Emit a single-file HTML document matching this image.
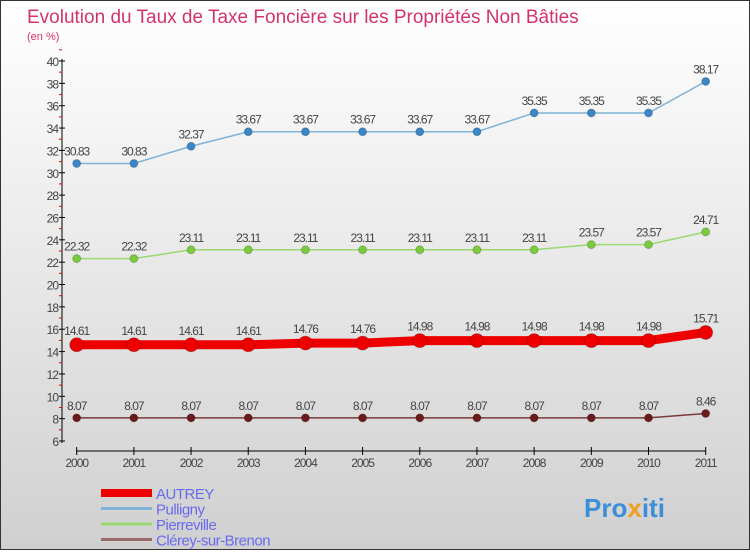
<!DOCTYPE html>
<html><head><meta charset="utf-8"><style>
body{margin:0;width:750px;height:550px;overflow:hidden;font-family:"Liberation Sans",sans-serif}
#c{position:absolute;left:0;top:0;width:748px;height:548px;border:1px solid #333;background:linear-gradient(#fff,#d0d0d0)}
</style></head><body>
<div id="c">
<svg width="750" height="550">
<text x="26" y="22" font-size="19" fill="#d2336e">Evolution du Taux de Taxe Foncière sur les Propriétés Non Bâties</text>
<text x="26" y="39" font-size="11" fill="#d2336e">(en %)</text>
<g id="axes"></g><g id="series"></g><g id="legend"></g>
<text x="583" y="516" font-size="26" font-weight="bold" fill="#3a8fd8">Pro<tspan fill="#f0a020">x</tspan>iti</text>
</svg></div>
<script>
const years=["2000","2001","2002","2003","2004","2005","2006","2007","2008","2009","2010","2011"];
const autrey=[14.61,14.61,14.61,14.61,14.76,14.76,14.98,14.98,14.98,14.98,14.98,15.71];
const pulligny=[30.83,30.83,32.37,33.67,33.67,33.67,33.67,33.67,35.35,35.35,35.35,38.17];
const pierreville=[22.32,22.32,23.11,23.11,23.11,23.11,23.11,23.11,23.11,23.57,23.57,24.71];
const clerey=[8.07,8.07,8.07,8.07,8.07,8.07,8.07,8.07,8.07,8.07,8.07,8.46];
const yTicks=[6,8,10,12,14,16,18,20,22,24,26,28,30,32,34,36,38,40];
const NS="http://www.w3.org/2000/svg";
const X=i=>75.7+i*57.18, Y=v=>440-(v-6)*380/34;
function mk(p,t,a){const e=document.createElementNS(NS,t);for(const k in a)e.setAttribute(k,a[k]);p.appendChild(e);return e;}
const ax=document.getElementById('axes');
let e=mk(ax,'line',{x1:61,y1:58,x2:61,y2:442,stroke:'#000'});

yTicks.forEach(v=>{mk(ax,'line',{x1:58,x2:64,y1:Y(v),y2:Y(v),stroke:'#000'});
 mk(ax,'line',{x1:58,x2:61,y1:Y(v+1),y2:Y(v+1),stroke:'#e00'});
 const t=mk(ax,'text',{x:57,y:Y(v)+5,'font-size':12,'text-anchor':'end',fill:'#444','letter-spacing':'-1'});t.textContent=v;
 });
e=mk(ax,'line',{x1:75,y1:450,x2:705,y2:450,stroke:'#000'});

years.forEach((y,i)=>{mk(ax,'line',{x1:X(i),x2:X(i),y1:446,y2:454,stroke:'#000'});
 const t=mk(ax,'text',{x:X(i),y:466,'font-size':12,'text-anchor':'middle',fill:'#444','letter-spacing':'-1'});t.textContent=y;
 });
const se=document.getElementById('series');
function series(name,data,col,pcol,w,r){
 const g=mk(se,'g',{});
 mk(g,'polyline',{points:data.map((v,i)=>X(i)+','+Y(v)).join(' '),fill:'none',stroke:col,'stroke-width':w});
 data.forEach((v,i)=>{const c=mk(g,'circle',{cx:X(i),cy:Y(v),r:r,fill:pcol,stroke:'#0003'});
  
  const t=mk(g,'text',{x:X(i),y:Y(v)-8-(r>4?2:0),'font-size':12,'text-anchor':'middle',fill:'#444','letter-spacing':'-1'});t.textContent=String(v).replace('.','.');
  });
}
series('pulligny',pulligny,'#7fb3d8','#3a86c8',1.5,4);
series('pierreville',pierreville,'#9ad870','#7acc3c',1.5,4);
series('autrey',autrey,'#ee0000','#ee0000',9,7);
series('clerey',clerey,'#7a3a3a','#6a1a1a',1.5,4);
const lg=document.getElementById('legend');
[['AUTREY','#ee0000',8],['Pulligny','#7fb3d8',3],['Pierreville','#9ad870',3],['Clérey-sur-Brenon','#9a6a6a',3]].forEach((d,i)=>{
 const y=492+i*15.5;
 const g=mk(lg,'g',{});
 mk(g,'line',{x1:100,x2:151,y1:y,y2:y,stroke:d[1],'stroke-width':d[2]});
 const t=mk(g,'text',{x:155,y:y+6,'font-size':15,fill:'#6a6aee','letter-spacing':'-0.5'});t.textContent=d[0];
});
</script></body></html>
